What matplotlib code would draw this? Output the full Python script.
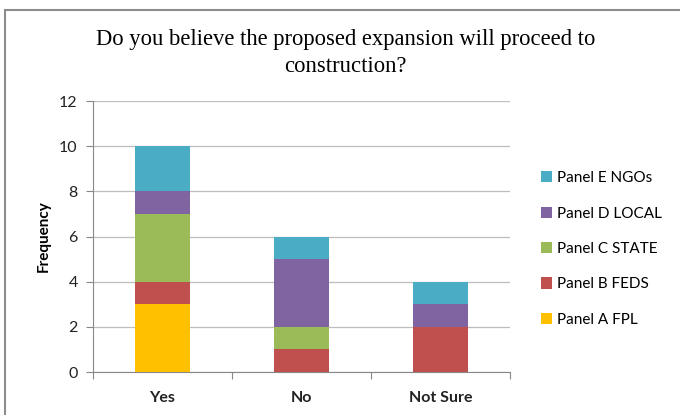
import matplotlib.pyplot as plt
from matplotlib.patches import Rectangle
import numpy as np

categories = ['Yes', 'No', 'Not Sure']
panels = ['Panel A FPL', 'Panel B FEDS', 'Panel C STATE', 'Panel D LOCAL', 'Panel E NGOs']
counts = {
    'Panel A FPL':   [3, 0, 0],
    'Panel B FEDS':  [1, 1, 2],
    'Panel C STATE': [3, 1, 0],
    'Panel D LOCAL': [1, 3, 1],
    'Panel E NGOs':  [2, 1, 1],
}
colors = ['#FFC000', '#C0504D', '#9BBB59', '#8064A2', '#4BACC6']
yticks = [0, 2, 4, 6, 8, 10, 12]

plt.rcParams['font.family'] = ['Lato', 'DejaVu Sans']

fig = plt.figure(figsize=(6.8, 4.15), dpi=100)
ax = fig.add_axes([93 / 680, 1 - 372 / 415, 417 / 680, 271 / 415])

x = np.arange(len(categories))
bottom = np.zeros(len(categories))
handles = []
for name, c in zip(panels, colors):
    vals = np.array(counts[name], dtype=float)
    h = ax.bar(x, vals, 0.4, bottom=bottom, color=c, label=name, zorder=3)
    handles.append(h)
    bottom += vals

ax.set_xlim(-0.5, 2.5)
ax.set_ylim(0, 12)
ax.set_yticks(yticks)
ax.set_yticklabels([str(v) for v in yticks], fontsize=11.5, color='#222222')
ax.yaxis.grid(True, color='#BDBDBD', linewidth=0.9, zorder=0)
ax.set_xticks([-0.5, 0.5, 1.5, 2.5])
ax.set_xticklabels([])
ax.set_xticks(x, minor=True)
ax.set_xticklabels(categories, minor=True, fontsize=11.5, fontweight='bold', color='#222222')
ax.tick_params(axis='x', which='major', length=5, color='#888888', direction='out')
ax.tick_params(axis='x', which='minor', length=0, pad=14)
ax.tick_params(axis='y', length=5, color='#888888', pad=6)
for s in ['top', 'right']:
    ax.spines[s].set_visible(False)
ax.spines['left'].set_color('#888888')
ax.spines['bottom'].set_color('#888888')
ax.set_ylabel('Frequency', fontsize=11, fontweight='bold', labelpad=6)

leg = fig.legend(handles[::-1], [h.get_label() for h in handles[::-1]],
                 loc='center left', bbox_to_anchor=(527 / 680, 1 - 249 / 415), frameon=False,
                 fontsize=11, handlelength=0.75, handleheight=0.75,
                 handletextpad=0.3, labelspacing=1.4)

fig.text(0.508, 0.873, 'Do you believe the proposed expansion will proceed to\nconstruction?',
         ha='center', va='center', fontsize=16.3, family='Liberation Serif',
         linespacing=1.38)

fig.add_artist(Rectangle((5 / 680, -0.1), 1.2, 1 - 10 / 415 + 0.1,
                         transform=fig.transFigure, fill=False,
                         edgecolor='#8C8C8C', linewidth=1.5))

fig.savefig('out.png', dpi=100)
